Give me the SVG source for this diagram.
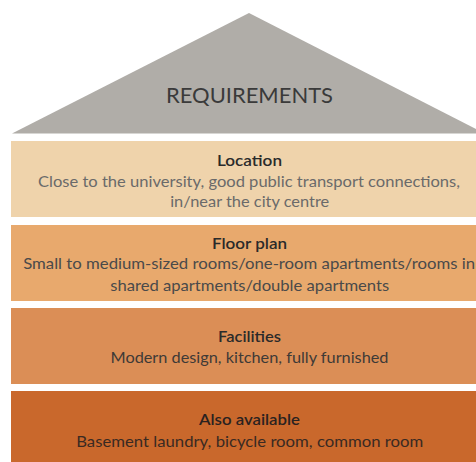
<svg xmlns="http://www.w3.org/2000/svg" width="476" height="462" viewBox="0 0 476 462">
<style>
text{font-family:Lato,"Liberation Sans",sans-serif;text-anchor:middle}
.t{font-size:16px;font-weight:600;fill:#2a2a2a}
.d{font-size:16px;fill:#4a4a4a}
.h{font-size:21px;fill:#3a3a3a}
</style>
<rect width="476" height="462" fill="#ffffff"/>
<g id="roof">
<polygon points="12,133.5 249,13 476,129 476,133.5" fill="#b0ada8"/>
<text class="h" x="249.5" y="103.3" textLength="167" lengthAdjust="spacingAndGlyphs">REQUIREMENTS</text>
</g>
<g id="location">
<rect x="11" y="141" width="465" height="76" fill="#efd3ab"/>
<text class="t" x="249.5" y="165.7" textLength="65" lengthAdjust="spacingAndGlyphs">Location</text>
<text class="d" x="249" y="187.3" textLength="422" lengthAdjust="spacingAndGlyphs" style="fill:#6a6a6a">Close to the university, good public transport connections,</text>
<text class="d" x="249.7" y="207.3" textLength="159" lengthAdjust="spacingAndGlyphs" style="fill:#6a6a6a">in/near the city centre</text>
</g>
<g id="floorplan">
<rect x="11" y="225" width="465" height="76" fill="#e8a96d"/>
<text class="t" x="249.5" y="249" textLength="75" lengthAdjust="spacingAndGlyphs">Floor plan</text>
<text class="d" x="249.2" y="269.3" textLength="452" lengthAdjust="spacingAndGlyphs">Small to medium-sized rooms/one-room apartments/rooms in</text>
<text class="d" x="249.7" y="290.8" textLength="279" lengthAdjust="spacingAndGlyphs">shared apartments/double apartments</text>
</g>
<g id="facilities">
<rect x="11" y="308" width="465" height="76" fill="#db8e56"/>
<text class="t" x="249.5" y="342.3" textLength="63" lengthAdjust="spacingAndGlyphs">Facilities</text>
<text class="d" x="249.5" y="363.3" textLength="278" lengthAdjust="spacingAndGlyphs" style="fill:#3e3a36">Modern design, kitchen, fully furnished</text>
</g>
<g id="also">
<rect x="11" y="391" width="465" height="71" fill="#c9682c"/>
<text class="t" x="249.5" y="425" textLength="101" lengthAdjust="spacingAndGlyphs" style="fill:#2a2220">Also available</text>
<text class="d" x="249.7" y="446.7" textLength="347" lengthAdjust="spacingAndGlyphs" style="fill:#3a2a22">Basement laundry, bicycle room, common room</text>
</g>
<g id="connectors"/>
</svg>
